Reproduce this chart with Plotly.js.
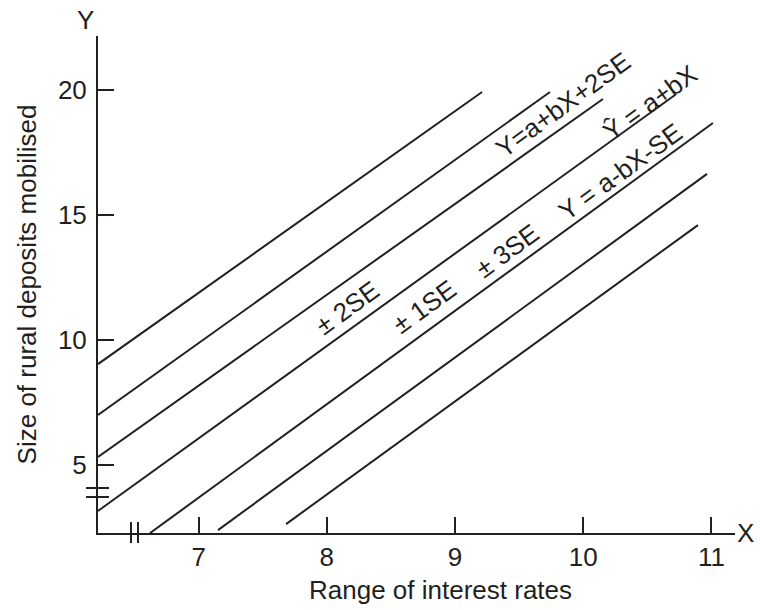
<!DOCTYPE html>
<html>
<head>
<meta charset="utf-8">
<script src="https://cdn.plot.ly/plotly-3.0.1.min.js"></script>
<style>html,body{margin:0;padding:0;background:#fff;}#chart{width:760px;height:610px;}</style>
</head>
<body>
<div id="chart"></div>
<script>
// ---- data ----
var lineNames = ["+3SE", "+2SE", "+1SE", "Y^ = a+bX", "-1SE", "-2SE", "-3SE"];
var xStart = [6.215, 6.215, 6.215, 6.215, 6.621, 7.151, 7.682];
var yStart = [9.03, 6.99, 5.31, 3.15, 2.26, 2.38, 2.62];
var xEnd   = [9.211, 9.741, 10.154, 10.716, 11.012, 10.966, 10.895];
var yEnd   = [19.93, 19.93, 19.65, 19.81, 18.69, 16.65, 14.60];

var labelText = ["\u00b1 2SE", "\u00b1 1SE", "\u00b1 3SE", "Y = a-bX-SE", "\u0176 = a+bX", "Y=a+bX+2SE"];
var labelX = [8.158, 8.758, 9.406, 10.287, 10.52, 9.842];
var labelY = [11.28, 11.32, 13.56, 16.73, 19.49, 19.41];

var xTickVals = [7, 8, 9, 10, 11];
var yTickVals = [5, 10, 15, 20];

var ink = '#231f20';
var fontFam = 'Liberation Sans, Arial, sans-serif';

var traces = [];
for (var i = 0; i < lineNames.length; i++) {
  traces.push({
    type: 'scatter', mode: 'lines', name: lineNames[i],
    x: [xStart[i], xEnd[i]], y: [yStart[i], yEnd[i]],
    line: {color: ink, width: 2}, hoverinfo: 'skip'
  });
}

var annotations = [];
for (var j = 0; j < labelText.length; j++) {
  annotations.push({
    x: labelX[j], y: labelY[j], xref: 'x', yref: 'y',
    xanchor: 'center', yanchor: 'middle',
    text: labelText[j], showarrow: false, textangle: -36,
    font: {family: fontFam, size: 26, color: ink}
  });
}
annotations.push({x: -0.0204, y: 1.032, xref: 'paper', yref: 'paper', text: 'Y', showarrow: false,
  xanchor: 'center', yanchor: 'middle', font: {family: fontFam, size: 26, color: ink}});
annotations.push({x: 1.016, y: 0, xref: 'paper', yref: 'paper', text: 'X', showarrow: false,
  xanchor: 'center', yanchor: 'middle', font: {family: fontFam, size: 26, color: ink}});
annotations.push({x: 0.537, y: -0.1147, xref: 'paper', yref: 'paper', text: 'Range of interest rates',
  showarrow: false, xanchor: 'center', yanchor: 'middle', font: {family: fontFam, size: 26, color: ink}});

var brk = {color: ink, width: 2};
var shapes = [
  {type: 'line', xref: 'paper', yref: 'paper', x0: 0.0518, x1: 0.0518, y0: -0.0201, y1: 0.0221, line: brk},
  {type: 'line', xref: 'paper', yref: 'paper', x0: 0.0628, x1: 0.0628, y0: -0.0201, y1: 0.0221, line: brk},
  {type: 'line', xref: 'paper', yref: 'paper', x0: -0.0188, x1: 0.0173, y0: 0.0905, y1: 0.0905, line: brk},
  {type: 'line', xref: 'paper', yref: 'paper', x0: -0.0188, x1: 0.0173, y0: 0.0724, y1: 0.0724, line: brk}
];

var layout = {
  width: 760, height: 610,
  margin: {l: 98, r: 25, t: 36, b: 77},
  paper_bgcolor: '#ffffff', plot_bgcolor: '#ffffff',
  showlegend: false, hovermode: false,
  font: {family: fontFam, color: ink, size: 26},
  xaxis: {
    range: [6.215, 11.184], tickvals: xTickVals, ticktext: xTickVals.map(String),
    ticks: 'inside', ticklen: 16, tickwidth: 2, tickcolor: ink,
    showline: true, linecolor: ink, linewidth: 2, showgrid: false, zeroline: false,
    tickfont: {family: fontFam, size: 26, color: ink}
  },
  yaxis: {
    range: [2.263, 22.175], tickvals: yTickVals, ticktext: yTickVals.map(String),
    ticks: 'inside', ticklen: 16, tickwidth: 2, tickcolor: ink,
    showline: true, linecolor: ink, linewidth: 2, showgrid: false, zeroline: false,
    ticklabelstandoff: 4,
    tickfont: {family: fontFam, size: 26, color: ink},
    title: {text: 'Size of rural deposits mobilised', font: {family: fontFam, size: 26, color: ink}, standoff: 14}
  },
  annotations: annotations,
  shapes: shapes
};

Plotly.newPlot('chart', traces, layout, {staticPlot: true, displayModeBar: false});
</script>
</body>
</html>
